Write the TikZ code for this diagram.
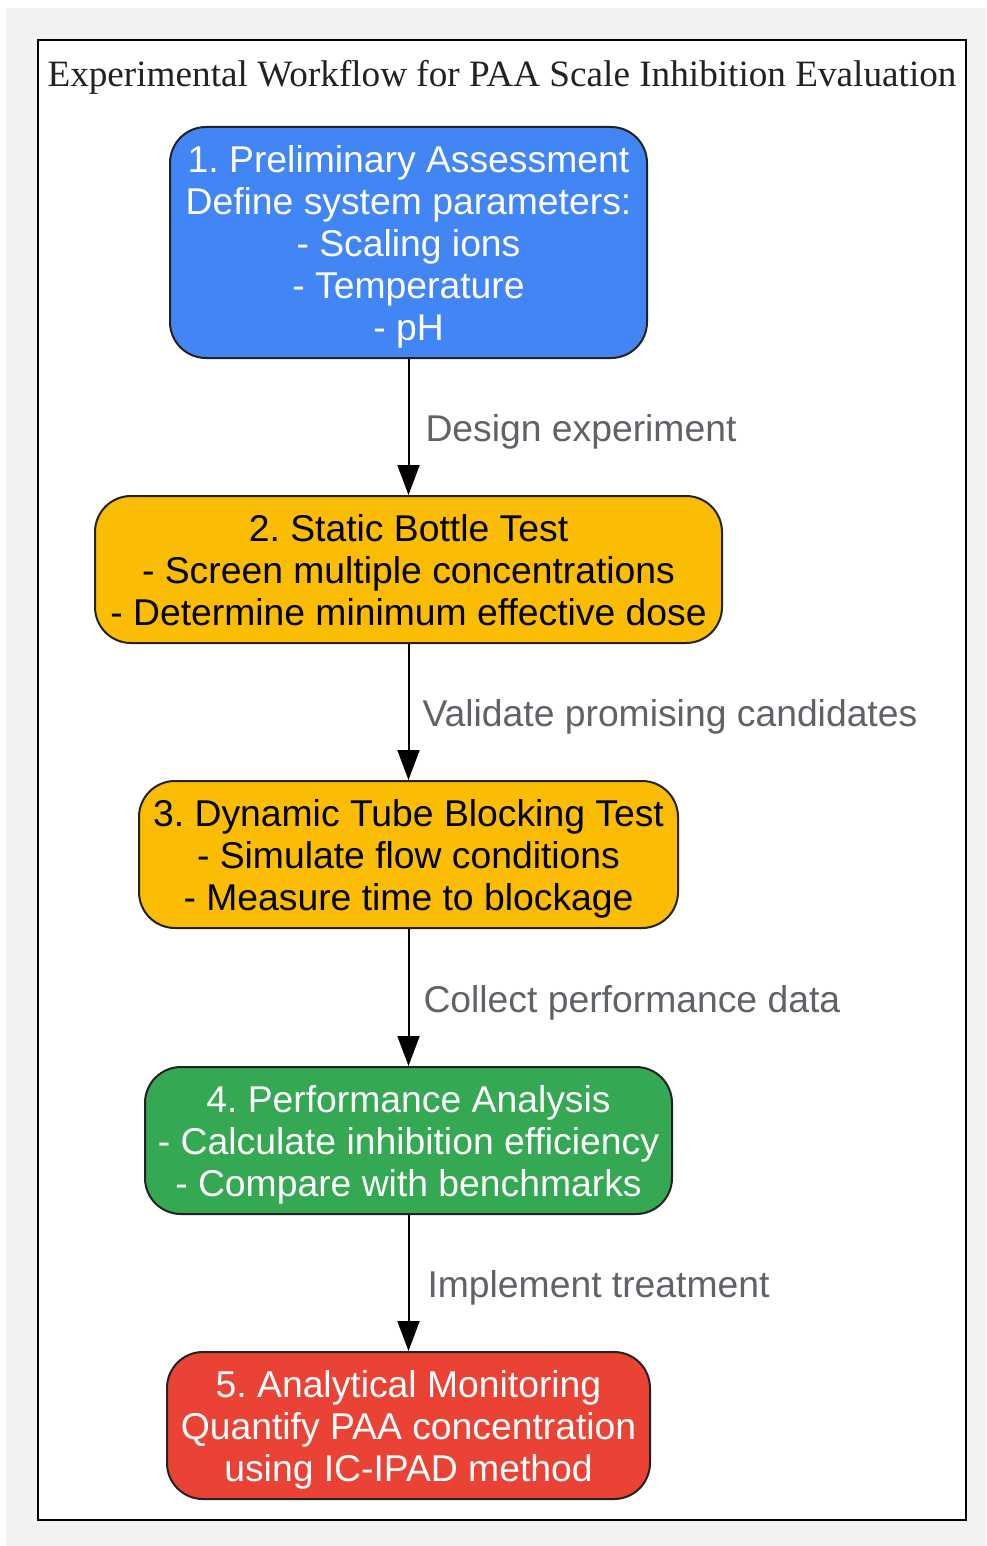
\documentclass[tikz,border=0pt]{standalone}
\usepackage{fontspec}
\setmainfont{Liberation Sans}
\newfontfamily\titlefont{Liberation Serif}
\usetikzlibrary{arrows.meta}
\frenchspacing
\definecolor{stepblue}{HTML}{4285F4}
\definecolor{stepyellow}{HTML}{FBBC04}
\definecolor{stepgreen}{HTML}{34A853}
\definecolor{stepred}{HTML}{EA4335}
\definecolor{labelgray}{HTML}{5F6368}
\definecolor{bggray}{HTML}{F1F2F4}
\definecolor{inkdark}{HTML}{222222}
\tikzset{
  stepbox/.style={draw=inkdark, line width=2pt, rounded corners=36pt, align=center,
    inner sep=0pt, text depth=0pt, font=\fontsize{37.3}{42}\selectfont},
  flow/.style={line width=2pt, -{Triangle[length=30pt,width=22pt]}},
  flowlabel/.style={midway, anchor=west, inner sep=0pt, xshift=16pt, yshift=-5pt, text=labelgray,
    font=\fontsize{37.3}{42}\selectfont}
}
\begin{document}
\begin{tikzpicture}[x=1pt, y=-1pt]
            \useasboundingbox (0,0) rectangle (986,1546);
            \fill[bggray] (6,8) rectangle (986,1546);
            \draw[fill=white, line width=2.5pt] (38,40) rectangle (966,1520);
            \node[text=inkdark, font=\titlefont\fontsize{37.2}{42}\selectfont] (title) at (502,77)
                {Experimental Workflow for PAA Scale Inhibition Evaluation};

            \begin{scope}[every node/.style={stepbox}]

                \node[fill=stepblue, text=white, minimum width=477pt, minimum height=231pt] (assess) at (408.5,242.5)
                    {1. Preliminary Assessment\\Define system parameters:\\- Scaling ions\\- Temperature\\- pH};
                \node[fill=stepyellow, text=black, minimum width=627pt, minimum height=147pt] (bottle) at (408.5,569.5)
                    {2. Static Bottle Test\\- Screen multiple concentrations\\- Determine minimum effective dose};
                \node[fill=stepyellow, text=black, minimum width=539pt, minimum height=147pt] (tube) at (408.5,854.5)
                    {3. Dynamic Tube Blocking Test\\- Simulate flow conditions\\- Measure time to blockage};
                \node[fill=stepgreen, text=white, minimum width=527pt, minimum height=147pt] (analysis) at (408.5,1140.5)
                    {4. Performance Analysis\\- Calculate inhibition efficiency\\- Compare with benchmarks};
                \node[fill=stepred, text=white, minimum width=483pt, minimum height=147pt] (monitor) at (408.5,1425.5)
                    {5. Analytical Monitoring\\Quantify PAA concentration\\using IC-IPAD method};

            \end{scope}
            \draw[flow] (assess) -- node[flowlabel] {Design experiment} (bottle);
            \draw[flow] (bottle) -- node[flowlabel, xshift=-3pt] {Validate promising candidates} (tube);
            \draw[flow] (tube) -- node[flowlabel, xshift=-2pt] {Collect performance data} (analysis);
            \draw[flow] (analysis) -- node[flowlabel, xshift=2pt] {Implement treatment} (monitor);
        \end{tikzpicture}
\end{document}
